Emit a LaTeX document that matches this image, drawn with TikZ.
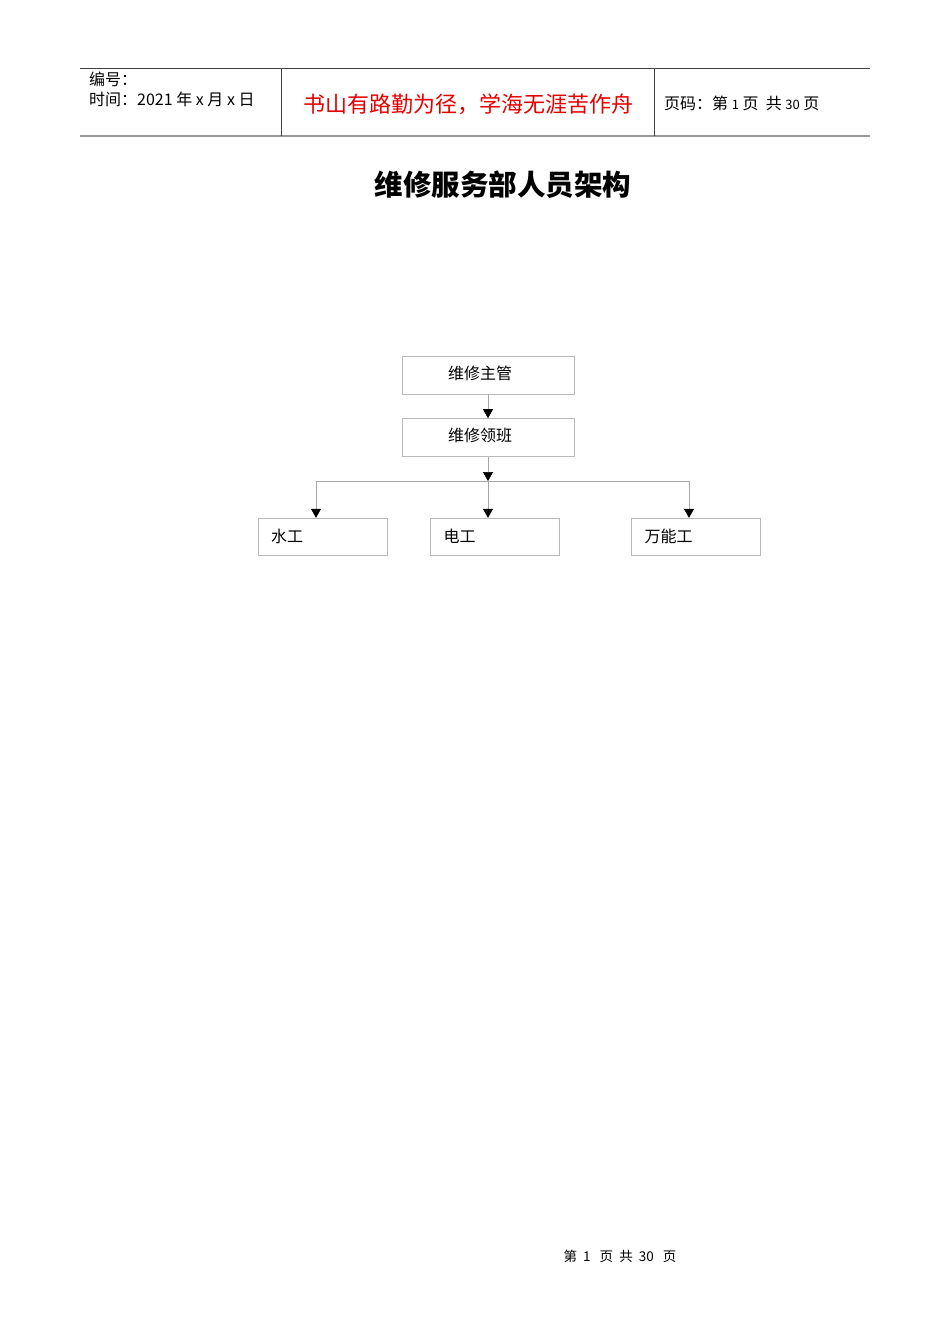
\documentclass[tikz,border=0pt]{standalone}
\usepackage{fontspec}
\setmainfont{Liberation Sans}
\newfontfamily\cjk{Noto Sans CJK SC}
\usetikzlibrary{arrows.meta,positioning}
\tikzset{
  rule/.style = {draw=black!75, line width=0.8pt},% header rules
  chief/.style = {draw=gray!55, minimum width=172pt, minimum height=38pt,
    inner sep=0pt, font=\cjk\fontsize{16}{16}\selectfont},% upper boxes
  crew/.style = {draw=gray!55, text width=103pt, align=left, inner xsep=13pt,
    minimum height=37pt, font=\cjk\fontsize{16}{16}\selectfont},% lower boxes
  link/.style = {draw=gray!70, line width=0.7pt,
    -{Triangle[color=black,width=10pt,length=9pt]}}% connectors
}
\begin{document}
\begin{tikzpicture}[x=1pt,y=-1pt]
\useasboundingbox[fill=white] (0,0) rectangle (950,1344);
% header
\draw[rule] (80,68) -- (870,68);
\draw[draw=gray!80, line width=2pt] (80,135.5) -- (870,135.5);
\draw[rule] (281,68) -- (281,135.5);
\draw[rule] (654,68) -- (654,135.5);
\node[anchor=west, inner sep=0pt, font=\cjk\fontsize{16}{16}\selectfont] (num) at (89,79) {编号：};
\node[anchor=west, inner sep=0pt, font=\cjk\fontsize{16}{16}\selectfont] (date) at (89,99) {时间：2021 年 x 月 x 日};
\node[inner sep=0pt, text=red!90!black, font=\cjk\fontsize{22}{22}\selectfont] (motto) at (468,104) {书山有路勤为径，学海无涯苦作舟};
\node[anchor=west, inner sep=0pt, font=\cjk\fontsize{16}{16}\selectfont] (page) at (664,103) {页码：第 {\fontsize{13}{13}\selectfont 1} 页 \ 共 {\fontsize{13}{13}\selectfont 30} 页};
% title
\node[inner sep=0pt, font=\cjk\bfseries\fontsize{28.5}{28.5}\selectfont] (title) at (503,185) {维修服务部人员架构};
% chart
\node[chief] (head) at (488,375) {\raisebox{5pt}{维修主管}\hspace*{16pt}};
\node[chief, below=24pt of head] (lead) {\raisebox{5pt}{维修领班}\hspace*{16pt}};
\node[crew] (water) at (322.5,536.5) {\raisebox{2pt}{水工}};
\node[crew] (elec) at (495,536.5) {\raisebox{2pt}{电工}};
\node[crew] (handy) at (696,536.5) {\raisebox{2pt}{万能工}};
\coordinate (bar) at (488,481);
\coordinate (barL) at (316,481);
\coordinate (barR) at (689,481);
\draw[link] (head) -- (lead);
\draw[link] (lead) -- (bar);
\draw[draw=gray!70, line width=0.7pt] (barL) -- (barR);
\draw[link] (barL) -- (barL |- water.north);
\draw[link] (bar) -- (bar |- elec.north);
\draw[link] (barR) -- (barR |- handy.north);
% footer
\node[inner sep=0pt, font=\cjk\fontsize{13.5}{13.5}\selectfont] (foot) at (620,1256) {第 \ 1 \ \ 页 \ 共 \ 30 \ \ 页};
\end{tikzpicture}
\end{document}
